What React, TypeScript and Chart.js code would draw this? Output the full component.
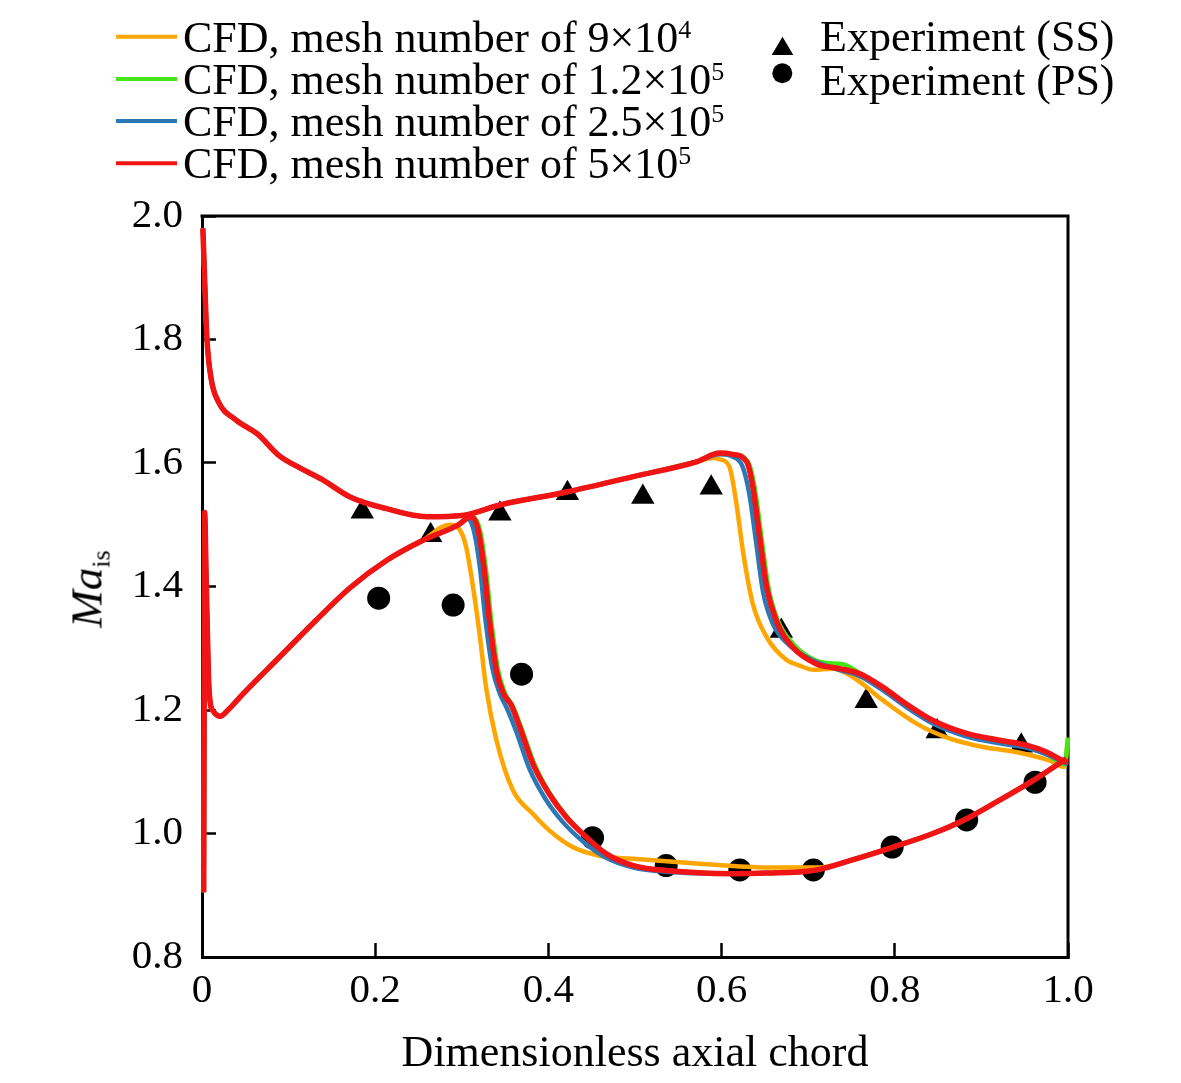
import { useEffect, useRef } from 'react';
import { Chart, registerables, Plugin } from 'chart.js';

Chart.register(...registerables);

type Pt = [number, number];

const SERIF = '"Liberation Serif", "Times New Roman", serif';

// legend / series
const meshBase = ['9×10', '1.2×10', '2.5×10', '5×10'];
const meshExp = ['4', '5', '5', '5'];
const meshColors = ['#FFA500', '#45E619', '#2B78B5', '#F01414'];
const meshWidths = [4.5, 4.5, 4.5, 5.5];

// suction side, shared leading part
const ssFront: Pt[] = [
  [0.001, 1.98], [0.003, 1.9], [0.0055, 1.806], [0.0105, 1.737], [0.019, 1.699],
  [0.039, 1.67], [0.064, 1.647], [0.089, 1.612], [0.113, 1.592], [0.138, 1.574],
  [0.171, 1.545], [0.213, 1.526], [0.26, 1.513], [0.3, 1.515], [0.344, 1.532],
  [0.421, 1.553], [0.498, 1.578], [0.571, 1.602],
];

const ssTail9e4: Pt[] = [
  [0.59, 1.608], [0.598, 1.606], [0.609, 1.594], [0.617, 1.535], [0.625, 1.454],
  [0.636, 1.372], [0.652, 1.318], [0.675, 1.281], [0.69, 1.272], [0.706, 1.265],
  [0.729, 1.267], [0.752, 1.253], [0.786, 1.216], [0.825, 1.178], [0.863, 1.154],
  [0.902, 1.14], [0.94, 1.132], [0.979, 1.118], [0.996, 1.108], [1.0, 1.155],
];

const ssTail12e5: Pt[] = [
  [0.598, 1.616], [0.613, 1.614], [0.63, 1.603], [0.638, 1.562], [0.646, 1.48],
  [0.654, 1.399], [0.665, 1.345], [0.684, 1.305], [0.709, 1.28], [0.722, 1.276],
  [0.74, 1.274], [0.759, 1.26], [0.786, 1.235], [0.813, 1.208], [0.844, 1.18],
  [0.883, 1.159], [0.921, 1.148], [0.952, 1.14], [0.975, 1.129], [0.996, 1.112],
  [1.0, 1.155],
];

const ssTail25e5: Pt[] = [
  [0.598, 1.614], [0.613, 1.61], [0.624, 1.595], [0.632, 1.55], [0.64, 1.47],
  [0.648, 1.39], [0.659, 1.34], [0.678, 1.305], [0.709, 1.278], [0.736, 1.265],
  [0.759, 1.255], [0.786, 1.232], [0.813, 1.205], [0.844, 1.178], [0.883, 1.157],
  [0.921, 1.146], [0.952, 1.139], [0.975, 1.128], [1.0, 1.112],
];

const ssTail5e5: Pt[] = [
  [0.598, 1.616], [0.613, 1.614], [0.629, 1.602], [0.636, 1.562], [0.644, 1.48],
  [0.652, 1.399], [0.663, 1.345], [0.682, 1.302], [0.709, 1.275], [0.736, 1.267],
  [0.759, 1.259], [0.786, 1.237], [0.813, 1.21], [0.844, 1.183], [0.883, 1.162],
  [0.921, 1.151], [0.952, 1.143], [0.975, 1.132], [0.994, 1.118], [1.0, 1.115],
];

// pressure side, shared leading part
const psFront: Pt[] = [
  [0.002, 0.905], [0.0025, 1.2], [0.003, 1.52], [0.005, 1.4], [0.0084, 1.227],
  [0.013, 1.198], [0.021, 1.19], [0.03, 1.2], [0.048, 1.227], [0.089, 1.285],
  [0.13, 1.343], [0.171, 1.398], [0.213, 1.442], [0.254, 1.474],
];

const psMid9e4: Pt[] = [
  [0.286, 1.5], [0.298, 1.491], [0.305, 1.464], [0.313, 1.399], [0.321, 1.318],
  [0.328, 1.237], [0.34, 1.151], [0.359, 1.07], [0.382, 1.032], [0.401, 1.005],
  [0.428, 0.978], [0.459, 0.964], [0.498, 0.959], [0.575, 0.951], [0.652, 0.945],
  [0.713, 0.945],
];

const psMid12e5: Pt[] = [
  [0.295, 1.499], [0.312, 1.513], [0.321, 1.491], [0.328, 1.426], [0.334, 1.345],
  [0.342, 1.264], [0.35, 1.227], [0.359, 1.206], [0.369, 1.17], [0.384, 1.112],
  [0.402, 1.064], [0.422, 1.026], [0.444, 0.994], [0.467, 0.967], [0.498, 0.948],
  [0.536, 0.94], [0.613, 0.935], [0.652, 0.936], [0.706, 0.94],
];

const psMid25e5: Pt[] = [
  [0.295, 1.499], [0.307, 1.51], [0.314, 1.49], [0.321, 1.43], [0.327, 1.35],
  [0.335, 1.27], [0.343, 1.23], [0.353, 1.2], [0.363, 1.165], [0.378, 1.105],
  [0.397, 1.055], [0.417, 1.018], [0.44, 0.987], [0.465, 0.962], [0.498, 0.945],
  [0.536, 0.938], [0.613, 0.935], [0.652, 0.936], [0.706, 0.94],
];

const psMid5e5: Pt[] = [
  [0.295, 1.499], [0.311, 1.513], [0.319, 1.491], [0.326, 1.426], [0.332, 1.345],
  [0.34, 1.264], [0.348, 1.227], [0.357, 1.208], [0.367, 1.172], [0.382, 1.113],
  [0.401, 1.064], [0.421, 1.026], [0.444, 0.994], [0.467, 0.967], [0.498, 0.948],
  [0.536, 0.94], [0.613, 0.935], [0.652, 0.936], [0.706, 0.94],
];

const psRear: Pt[] = [
  [0.748, 0.956], [0.798, 0.978], [0.844, 1.0], [0.883, 1.024], [0.921, 1.054],
  [0.96, 1.086], [0.998, 1.121],
];

// experiments
const expSS: Pt[] = [
  [0.185, 1.521], [0.264, 1.483], [0.344, 1.518], [0.422, 1.551], [0.509, 1.545],
  [0.588, 1.56], [0.669, 1.328], [0.767, 1.214], [0.849, 1.165], [0.946, 1.142],
];
const expPS: Pt[] = [
  [0.204, 1.381], [0.29, 1.37], [0.369, 1.258], [0.451, 0.993], [0.536, 0.948],
  [0.621, 0.941], [0.706, 0.941], [0.797, 0.978], [0.883, 1.022], [0.962, 1.083],
];

const ssTails = [ssTail9e4, ssTail12e5, ssTail25e5, ssTail5e5];
const psMids = [psMid9e4, psMid12e5, psMid25e5, psMid5e5];

const toXY = (pts: Pt[]) => pts.map(([x, y]) => ({ x, y }));

// closes the box on the top and right sides
const framePlugin: Plugin = {
  id: 'frame',
  beforeDatasetsDraw(chart) {
    const { ctx, chartArea } = chart;
    ctx.save();
    ctx.strokeStyle = '#000';
    ctx.lineWidth = 3;
    ctx.beginPath();
    ctx.moveTo(chartArea.left - 1.5, chartArea.top);
    ctx.lineTo(chartArea.right, chartArea.top);
    ctx.lineTo(chartArea.right, chartArea.bottom + 1.5);
    ctx.stroke();
    ctx.restore();
  },
};

export default function App() {
  const canvasRef = useRef<HTMLCanvasElement>(null);

  useEffect(() => {
    const canvas = canvasRef.current;
    if (!canvas) return;

    const lineSets: any[] = [];
    meshBase.forEach((_, i) => {
      const common = {
        showLine: true,
        borderColor: meshColors[i],
        backgroundColor: meshColors[i],
        borderWidth: meshWidths[i],
        pointRadius: 0,
        cubicInterpolationMode: 'monotone',
        order: 3 - i,
        clip: false,
      };
      lineSets.push({ ...common, data: toXY([...ssFront, ...ssTails[i]]) });
      lineSets.push({ ...common, data: toXY([...psFront, ...psMids[i], ...psRear]) });
    });

    const chart = new Chart(canvas, {
      type: 'scatter',
      data: {
        datasets: [
          ...lineSets,
          {
            data: toXY(expSS),
            pointStyle: 'triangle',
            pointRadius: 13.5,
            backgroundColor: '#000',
            borderWidth: 0,
            order: 5,
          },
          {
            data: toXY(expPS),
            pointStyle: 'circle',
            pointRadius: 11.5,
            backgroundColor: '#000',
            borderWidth: 0,
            order: 5,
          },
        ],
      },
      options: {
        animation: false,
        responsive: false,
        devicePixelRatio: 1,
        layout: { padding: { top: 216, right: 113, left: 0, bottom: 0 } },
        plugins: { legend: { display: false }, tooltip: { enabled: false } },
        scales: {
          x: {
            type: 'linear',
            min: 0,
            max: 1,
            afterFit: (s: any) => { s.height = 126; },
            border: { display: true, color: '#000', width: 3 },
            grid: { drawOnChartArea: false, drawTicks: true, tickLength: -14, tickWidth: 2.5, tickColor: '#000' },
            ticks: {
              stepSize: 0.2,
              padding: 24,
              color: '#000',
              font: { family: SERIF, size: 41 },
              callback: (v: any) => (Number(v) === 0 ? '0' : Number(v).toFixed(1)),
            },
            title: {
              display: true,
              text: 'Dimensionless axial chord',
              color: '#000',
              font: { family: SERIF, size: 44 },
              padding: { top: 0, bottom: 2 },
            },
          },
          y: {
            type: 'linear',
            min: 0.8,
            max: 2.0,
            afterFit: (s: any) => { s.width = 202; },
            border: { display: true, color: '#000', width: 3 },
            grid: { drawOnChartArea: false, drawTicks: true, tickLength: -14, tickWidth: 2.5, tickColor: '#000' },
            ticks: {
              stepSize: 0.2,
              padding: 33,
              color: '#000',
              font: { family: SERIF, size: 41 },
              callback: (v: any) => Number(v).toFixed(1),
            },
          },
        },
      },
      plugins: [framePlugin],
    } as any);

    return () => chart.destroy();
  }, []);

  const lineYs = [36.7, 79, 121, 163.3];
  const textBase = [52.7, 94.9, 137.1, 179.3];

  return (
    <div style={{ position: 'absolute', left: 0, top: 0, width: 1181, height: 1083, background: '#fff', fontFamily: SERIF, color: '#000' }}>
      <canvas ref={canvasRef} width={1181} height={1083} style={{ position: 'absolute', left: 0, top: 0 }} />
      <svg width={1181} height={200} style={{ position: 'absolute', left: 0, top: 0, pointerEvents: 'none' }}>
        {meshColors.map((c, i) => (
          <line key={i} x1={116} x2={177} y1={lineYs[i]} y2={lineYs[i]} stroke={c} strokeWidth={4} />
        ))}
        <polygon points="782.5,36.7 771.7,55 793.3,55" fill="#000" />
        <circle cx={782.3} cy={73.3} r={10} fill="#000" />
      </svg>
      {meshBase.map((b, i) => (
        <div key={i} style={{ position: 'absolute', left: 183, top: textBase[i] - 36.85, fontSize: 44, lineHeight: '44px', whiteSpace: 'nowrap' }}>
          CFD, mesh number of {b}
          <sup style={{ fontSize: 26, verticalAlign: 14, lineHeight: 0 }}>{meshExp[i]}</sup>
        </div>
      ))}
      {['Experiment (SS)', 'Experiment (PS)'].map((t, i) => (
        <div key={t} style={{ position: 'absolute', left: 820, top: [51.7, 96][i] - 36.85, fontSize: 44, lineHeight: '44px', whiteSpace: 'nowrap' }}>
          {t}
        </div>
      ))}
      <div style={{ position: 'absolute', left: 87, top: 589, transform: 'translate(-50%, -50%) rotate(-90deg)', fontSize: 45, lineHeight: '45px', whiteSpace: 'nowrap' }}>
        <i>Ma</i>
        <sub style={{ fontSize: 26, verticalAlign: -8, lineHeight: 0 }}>is</sub>
      </div>
    </div>
  );
}
